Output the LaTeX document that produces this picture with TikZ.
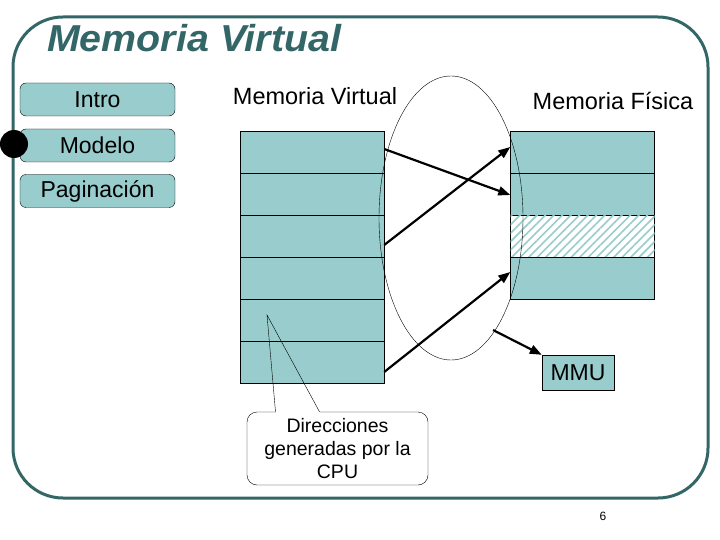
\documentclass[tikz,border=0pt]{standalone}
\usepackage{fontspec}
\setmainfont{Liberation Sans}
\newfontfamily\titlefont{Liberation Sans}[BoldItalicFeatures={FakeStretch=1.05}]
\usetikzlibrary{arrows.meta,patterns.meta}

\definecolor{frameteal}{HTML}{336666}
\definecolor{boxteal}{HTML}{99CCCC}

\tikzset{
  button/.style={draw, fill=boxteal, rounded corners=6pt, minimum width=155pt,
    minimum height=33pt, inner sep=0pt, font=\fontsize{23}{26}\selectfont},
  cell/.style={draw, fill=boxteal, minimum width=144pt, minimum height=42pt, inner sep=0pt},
  hatched/.style={cell, fill=white, postaction={pattern={Lines[angle=45, distance=6pt, line width=1.6pt]}, pattern color=boxteal}},
  heading/.style={anchor=base, font=\fontsize{23.5}{26}\selectfont},
  pagemap/.style={line width=2.2pt, -{Triangle[length=12pt, width=9pt]}},
}

\begin{document}
\begin{tikzpicture}[x=1pt, y=-1pt]
    \useasboundingbox (0,0) rectangle (720,540);
    % frame and title
    \draw[frameteal, line width=3pt, rounded corners=50pt] (13,17) rectangle (708,498);
    \node[anchor=base west, inner sep=0pt, text=frameteal, font=\fontsize{37.5}{40}\selectfont\titlefont\bfseries\itshape] (title) at (47,52) {Memoria Virtual};

    % side menu
    \node[button] (intro) at (97.5,99.5) {Intro};
    \node[button] (modelo) at (97.5,145.5) {Modelo};
    \node[button] (paginacion) at (97.5,191) {Paginación};
    \node[circle, fill, minimum size=28pt, inner sep=0pt] (dot) at (14,144) {};

    % virtual memory
    \node[heading] (vmhead) at (315,105) {Memoria Virtual};
    \foreach \i in {0,...,5}
        \node[cell] (v\i) at (312,152+42*\i) {};

    % physical memory
    \node[heading] (pmhead) at (613,110) {Memoria Física};
    \node[cell] (p0) at (582.5,152) {};
    \node[cell] (p1) at (582.5,194) {};
    \node[hatched] (p2) at (582.5,236) {};
    \node[cell] (p3) at (582.5,278) {};

    \node[draw, fill=boxteal, minimum width=72pt, minimum height=35pt, font=\fontsize{23}{26}\selectfont] (mmu) at (578,372.5) {MMU};

    % translation
    \draw (451,218) ellipse [x radius=72pt, y radius=142pt];
    \coordinate (ellout) at (493,330);
    \draw[pagemap] ([yshift=3pt]v0.east) -- ([yshift=-1pt]p1.west);
    \draw[pagemap] ([yshift=-9pt]v2.east) -- ([yshift=5pt]p0.west);
    \draw[pagemap] ([yshift=-10pt]v5.east) -- ([yshift=6pt]p3.west);
    \draw[pagemap] (ellout) -- (mmu.north west);

    % callout
    \node[draw, rounded corners=10pt, minimum width=181pt, minimum height=73pt, align=center,
      font=\fontsize{19.5}{23}\selectfont] (cpu) at (337.5,448.5) {Direcciones\\generadas por la\\CPU};
    \coordinate (tip) at (267,315);
    \draw[white, line width=1.5pt] ([xshift=-62pt]cpu.north) -- ([xshift=-18pt]cpu.north);
    \draw ([xshift=-62pt]cpu.north) -- (tip) -- ([xshift=-18pt]cpu.north);

    \node[font=\fontsize{12}{14}\selectfont] (page) at (603,516) {6};
\end{tikzpicture}
\end{document}
